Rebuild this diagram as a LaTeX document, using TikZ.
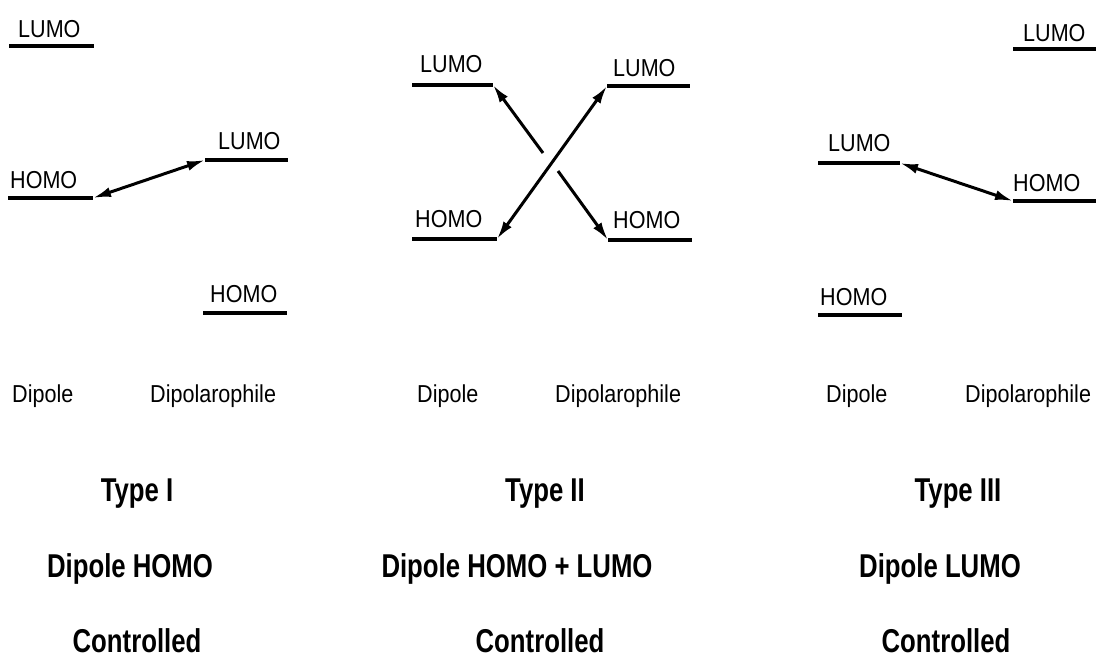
\documentclass[tikz,border=0pt]{standalone}
\usepackage{fontspec}
\usetikzlibrary{arrows.meta}
\newfontfamily\labfont[FakeStretch=0.88]{Liberation Sans}
\newfontfamily\ttlfont[FakeStretch=0.78]{Liberation Sans}
\tikzset{
  lab/.style={inner sep=0pt, anchor=base west, font=\labfont\fontsize{24.5}{28}\selectfont},
  ttl/.style={inner sep=0pt, anchor=base, font=\ttlfont\bfseries\fontsize{33}{38}\selectfont},
  level/.style={line width=3.2pt},
  conn/.style={line width=3pt, {Latex[length=18pt,width=10pt]}-{Latex[length=18pt,width=10pt]}},
  half/.style={line width=3pt, -{Latex[length=18pt,width=10pt]}}
}
\begin{document}
\begin{tikzpicture}[x=1pt,y=-1pt]
\useasboundingbox (0,0) rectangle (1096,658);
% ---------- Type I ----------
\node[lab] (t1lumoL) at (18,38) {LUMO};
\coordinate (a1) at (9,46); \coordinate (a2) at (94,46);
\draw[level] (a1) -- (a2);
\node[lab] (t1homoL) at (10,189) {HOMO};
\coordinate (b1) at (8,198); \coordinate (b2) at (93,198);
\draw[level] (b1) -- (b2);
\node[lab] (t1lumoR) at (218,150) {LUMO};
\coordinate (c1) at (205,160); \coordinate (c2) at (288,160);
\draw[level] (c1) -- (c2);
\node[lab] (t1homoR) at (210,302) {HOMO};
\coordinate (d1) at (203,313); \coordinate (d2) at (287,313);
\draw[level] (d1) -- (d2);
\draw[conn] (b2) -- (c1);
% ---------- Type II ----------
\node[lab] (t2lumoL) at (420,73) {LUMO};
\coordinate (e1) at (412,85); \coordinate (e2) at (493,85);
\draw[level] (e1) -- (e2);
\node[lab] (t2lumoR) at (613,77) {LUMO};
\coordinate (f1) at (607,86); \coordinate (f2) at (690,86);
\draw[level] (f1) -- (f2);
\node[lab] (t2homoL) at (415,228) {HOMO};
\coordinate (g1) at (412,239); \coordinate (g2) at (497,239);
\draw[level] (g1) -- (g2);
\node[lab] (t2homoR) at (613,229) {HOMO};
\coordinate (h1) at (608,240); \coordinate (h2) at (692,240);
\draw[level] (h1) -- (h2);
\draw[conn] (g2) -- (f1);
\coordinate (s1) at (543,153);
\coordinate (s2) at (558,171);
\draw[half] (s1) -- (e2);
\draw[half] (s2) -- (h1);
% ---------- Type III ----------
\node[lab] (t3lumoR) at (1023,42) {LUMO};
\coordinate (i1) at (1013,49); \coordinate (i2) at (1096,49);
\draw[level] (i1) -- (i2);
\node[lab] (t3lumoL) at (828,152) {LUMO};
\coordinate (j1) at (818,163); \coordinate (j2) at (900,163);
\draw[level] (j1) -- (j2);
\node[lab] (t3homoR) at (1013,192) {HOMO};
\coordinate (k1) at (1013,201); \coordinate (k2) at (1096,201);
\draw[level] (k1) -- (k2);
\node[lab] (t3homoL) at (820,305) {HOMO};
\coordinate (l1) at (818,315); \coordinate (l2) at (902,315);
\draw[level] (l1) -- (l2);
\draw[conn] (j2) -- (k1);
% ---------- captions ----------
\node[lab] (dp1) at (12,402) {Dipole};
\node[lab] (dph1) at (150,402) {Dipolarophile};
\node[lab] (dp2) at (417,402) {Dipole};
\node[lab] (dph2) at (555,402) {Dipolarophile};
\node[lab] (dp3) at (826,402) {Dipole};
\node[lab] (dph3) at (965,402) {Dipolarophile};
\node[ttl] (ty1) at (137,501) {Type I};
\node[ttl] (ty2) at (545,501) {Type II};
\node[ttl] (ty3) at (958,501) {Type III};
\node[ttl] (dh1) at (130,577) {Dipole HOMO};
\node[ttl] (dh2) at (517,577) {Dipole HOMO + LUMO};
\node[ttl] (dh3) at (940,577) {Dipole LUMO};
\node[ttl] (co1) at (137,652) {Controlled};
\node[ttl] (co2) at (540,652) {Controlled};
\node[ttl] (co3) at (946,652) {Controlled};
\end{tikzpicture}
\end{document}
